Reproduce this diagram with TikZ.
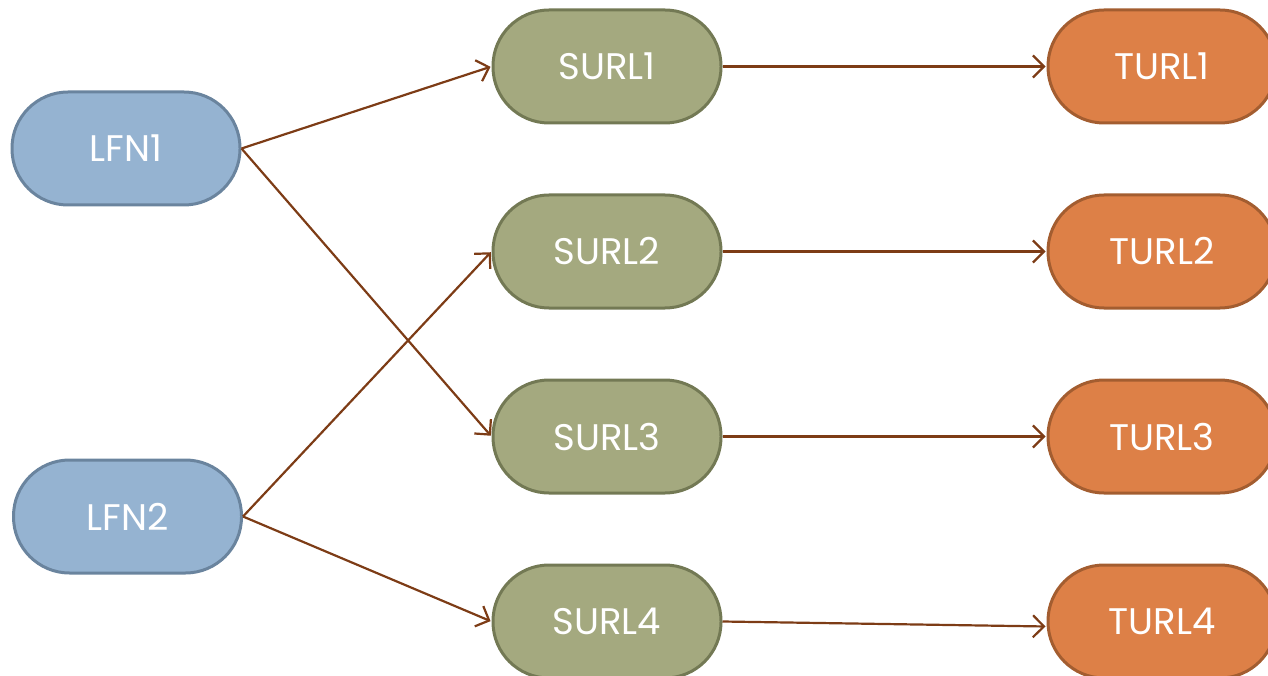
\documentclass[tikz,border=0pt]{standalone}
\usepackage{fontspec}
\setmainfont{Poppins}
\usetikzlibrary{arrows.meta}
\definecolor{lfnfill}{HTML}{95B3D1}
\definecolor{lfnline}{HTML}{6A849E}
\definecolor{sfill}{HTML}{A4A97F}
\definecolor{sline}{HTML}{737954}
\definecolor{tfill}{HTML}{DD8047}
\definecolor{tline}{HTML}{A35D30}
\definecolor{conn}{HTML}{7D3C16}
\tikzset{
  pill/.style={rectangle, rounded corners=56pt, minimum width=228pt, minimum height=113pt,
    line width=3pt, text=white, font=\fontsize{37}{44}\selectfont, inner sep=0pt},
  lfn/.style={pill, fill=lfnfill, draw=lfnline},
  surl/.style={pill, fill=sfill, draw=sline},
  turl/.style={pill, fill=tfill, draw=tline},
  conn/.style={draw=conn, line width=2.2pt, -{Straight Barb[length=11pt,width=22pt,line width=2.2pt]}, shorten >=1pt}
}
\begin{document}
\begin{tikzpicture}[x=1pt,y=-1pt]
\useasboundingbox (0,0) rectangle (1268,676);
\node[lfn] (l1) at (126,148.5) {LFN1};
\node[lfn] (l2) at (127.5,516.5) {LFN2};
\node[surl] (s1) at (607,66.5) {SURL1};
\node[surl] (s2) at (607,251.5) {SURL2};
\node[surl] (s3) at (607,436.5) {SURL3};
\node[surl] (s4) at (607,621.5) {SURL4};
\node[turl] (t1) at (1162,66.5) {TURL1};
\node[turl] (t2) at (1162,251.5) {TURL2};
\node[turl] (t3) at (1162,436.5) {TURL3};
\node[turl] (t4) at (1162,621.5) {TURL4};
\draw[conn] (l1.east) -- (s1.west);
\draw[conn] (l1.east) -- (s3.west);
\draw[conn] (l2.east) -- (s2.west);
\draw[conn] (l2.east) -- (s4.west);
\draw[conn] (s1.east) -- (t1.west);
\draw[conn] (s2.east) -- (t2.west);
\draw[conn] (s3.east) -- (t3.west);
\draw[conn] (s4.east) -- ([yshift=-5pt]t4.west);
\end{tikzpicture}
\end{document}
